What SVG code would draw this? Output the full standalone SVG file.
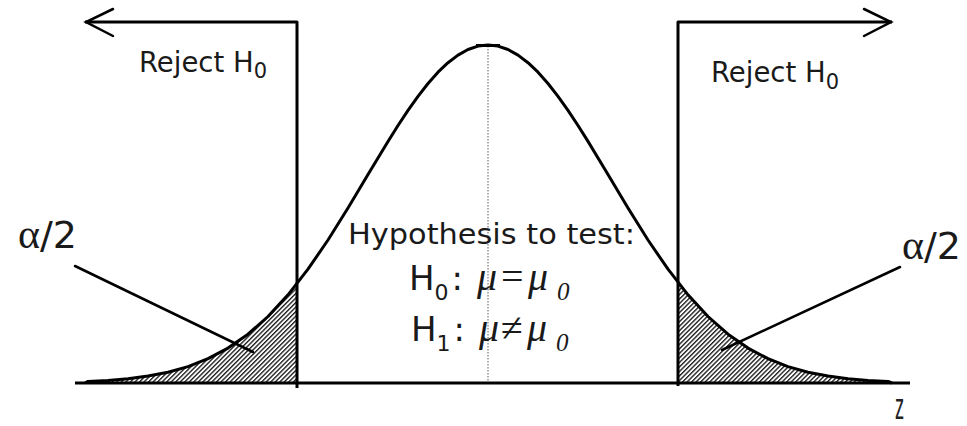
<svg xmlns="http://www.w3.org/2000/svg" width="967" height="426" viewBox="0 0 967 426">
<defs>
<pattern id="hatch" patternUnits="userSpaceOnUse" width="3.2" height="3.2" patternTransform="rotate(45)">
<rect width="3.2" height="3.2" fill="#fff"/>
<line x1="0.7" y1="0" x2="0.7" y2="3.2" stroke="#111" stroke-width="1.3"/>
</pattern>
</defs>
<style>
.ln{fill:none;stroke:#000;stroke-width:3;stroke-linecap:butt;stroke-linejoin:round}
.thin{fill:none;stroke:#000;stroke-width:2.5;stroke-linecap:round}
.sans{font-family:"DejaVu Sans","Verdana",sans-serif;fill:#1a1a1a}
.ser{font-family:"Liberation Serif","Times New Roman",serif;fill:#1a1a1a}
.it{font-family:"Liberation Serif","Times New Roman",serif;font-style:italic;fill:#1a1a1a}
</style>
<rect width="967" height="426" fill="#fff"/>

<g id="left-tail">
<polygon fill="url(#hatch)" points="85,383 88,381.4 108,380.4 128,378.7 148,376 168,372.2 188,366.6 208,358.7 228,348.1 248,334.2 268,316.5 288,294.8 297,283.8 297,383"/>
</g>
<g id="right-tail">
<polygon fill="url(#hatch)" points="678,282.5 688,294.8 708,316.5 728,334.2 748,348.1 768,358.7 788,366.6 808,372.2 828,376 848,378.7 868,380.4 888,381.4 892,383 678,383"/>
</g>

<g id="mean-line">
<line x1="488" y1="46" x2="488" y2="383" stroke="#777" stroke-width="1.2" stroke-dasharray="1.5 1.5"/>
</g>

<g id="curve">
<polyline class="ln" stroke-width="2.6" points="85,383 88,381.4 108,380.4 128,378.7 148,376 168,372.2 188,366.6 208,358.7 228,348.1 248,334.2 268,316.5 288,294.8 308,269.2 328,240 348,208 368,174.6 388,141.4 398,125.5 408,110.4 418,96.3 428,83.5 438,72.2 448,62.7 458,55.1 468,49.5 478,46.1 488,45 498,46.1 508,49.5 518,55.1 528,62.7 538,72.2 548,83.5 558,96.3 568,110.4 578,125.5 588,141.4 608,174.6 628,208 648,240 668,269.2 688,294.8 708,316.5 728,334.2 748,348.1 768,358.7 788,366.6 808,372.2 828,376 848,378.7 868,380.4 888,381.4 892,383"/>
<line x1="476" y1="45.5" x2="500" y2="45.5" stroke="#000" stroke-width="3"/>
</g>

<g id="connectors">
<path class="ln" d="M75,383 H910"/>
<path class="ln" d="M85,22 H297 V388"/>
<polyline class="thin" points="113,9 86,22 113,36"/>
<path class="ln" d="M678,386 V22 H892"/>
<polyline class="thin" points="864,9 891,22 864,36"/>
<line class="thin" x1="75" y1="266" x2="253" y2="352"/>
<line class="thin" x1="900" y1="267" x2="722" y2="350"/>
</g>

<g id="label-reject-left">
<text class="sans" x="139" y="72" font-size="27.5">Reject H<tspan font-size="21" dy="6">0</tspan></text>
</g>
<g id="label-reject-right">
<text class="sans" x="711" y="82" font-size="27.5">Reject H<tspan font-size="21" dy="7">0</tspan></text>
</g>

<g id="label-alpha-left">
<text x="77" y="248" text-anchor="end"><tspan class="ser" font-size="42">α</tspan><tspan class="sans" font-size="38">/2</tspan></text>
</g>
<g id="label-alpha-right">
<text x="902" y="259"><tspan class="ser" font-size="42">α</tspan><tspan class="sans" font-size="38">/2</tspan></text>
</g>

<g id="hypothesis">
<text class="sans" x="348" y="244" font-size="29" textLength="287" lengthAdjust="spacingAndGlyphs">Hypothesis to test:</text>
<text class="sans" x="409" y="290" font-size="34">H<tspan font-size="22" dy="10">0</tspan><tspan dy="-10" dx="3">:</tspan></text>
<text y="290"><tspan class="it" x="477" font-size="40">μ</tspan><tspan class="ser" x="501" font-size="40">=</tspan><tspan class="it" x="528" font-size="40">μ</tspan><tspan class="it" x="557" dy="10" font-size="25">0</tspan></text>
<text class="sans" x="411" y="341" font-size="34">H<tspan font-size="22" dy="10">1</tspan><tspan dy="-10" dx="3">:</tspan></text>
<text y="341"><tspan class="it" x="479" font-size="40">μ</tspan><tspan class="ser" x="501" font-size="40">≠</tspan><tspan class="it" x="527" font-size="40">μ</tspan><tspan class="it" x="556" dy="10" font-size="25">0</tspan></text>
</g>

<g id="axis-label">
<text x="0" y="0" font-family="Liberation Sans, sans-serif" font-size="26" fill="#222" transform="translate(895,419) scale(0.7,1.45)">z</text>
</g>
</svg>
